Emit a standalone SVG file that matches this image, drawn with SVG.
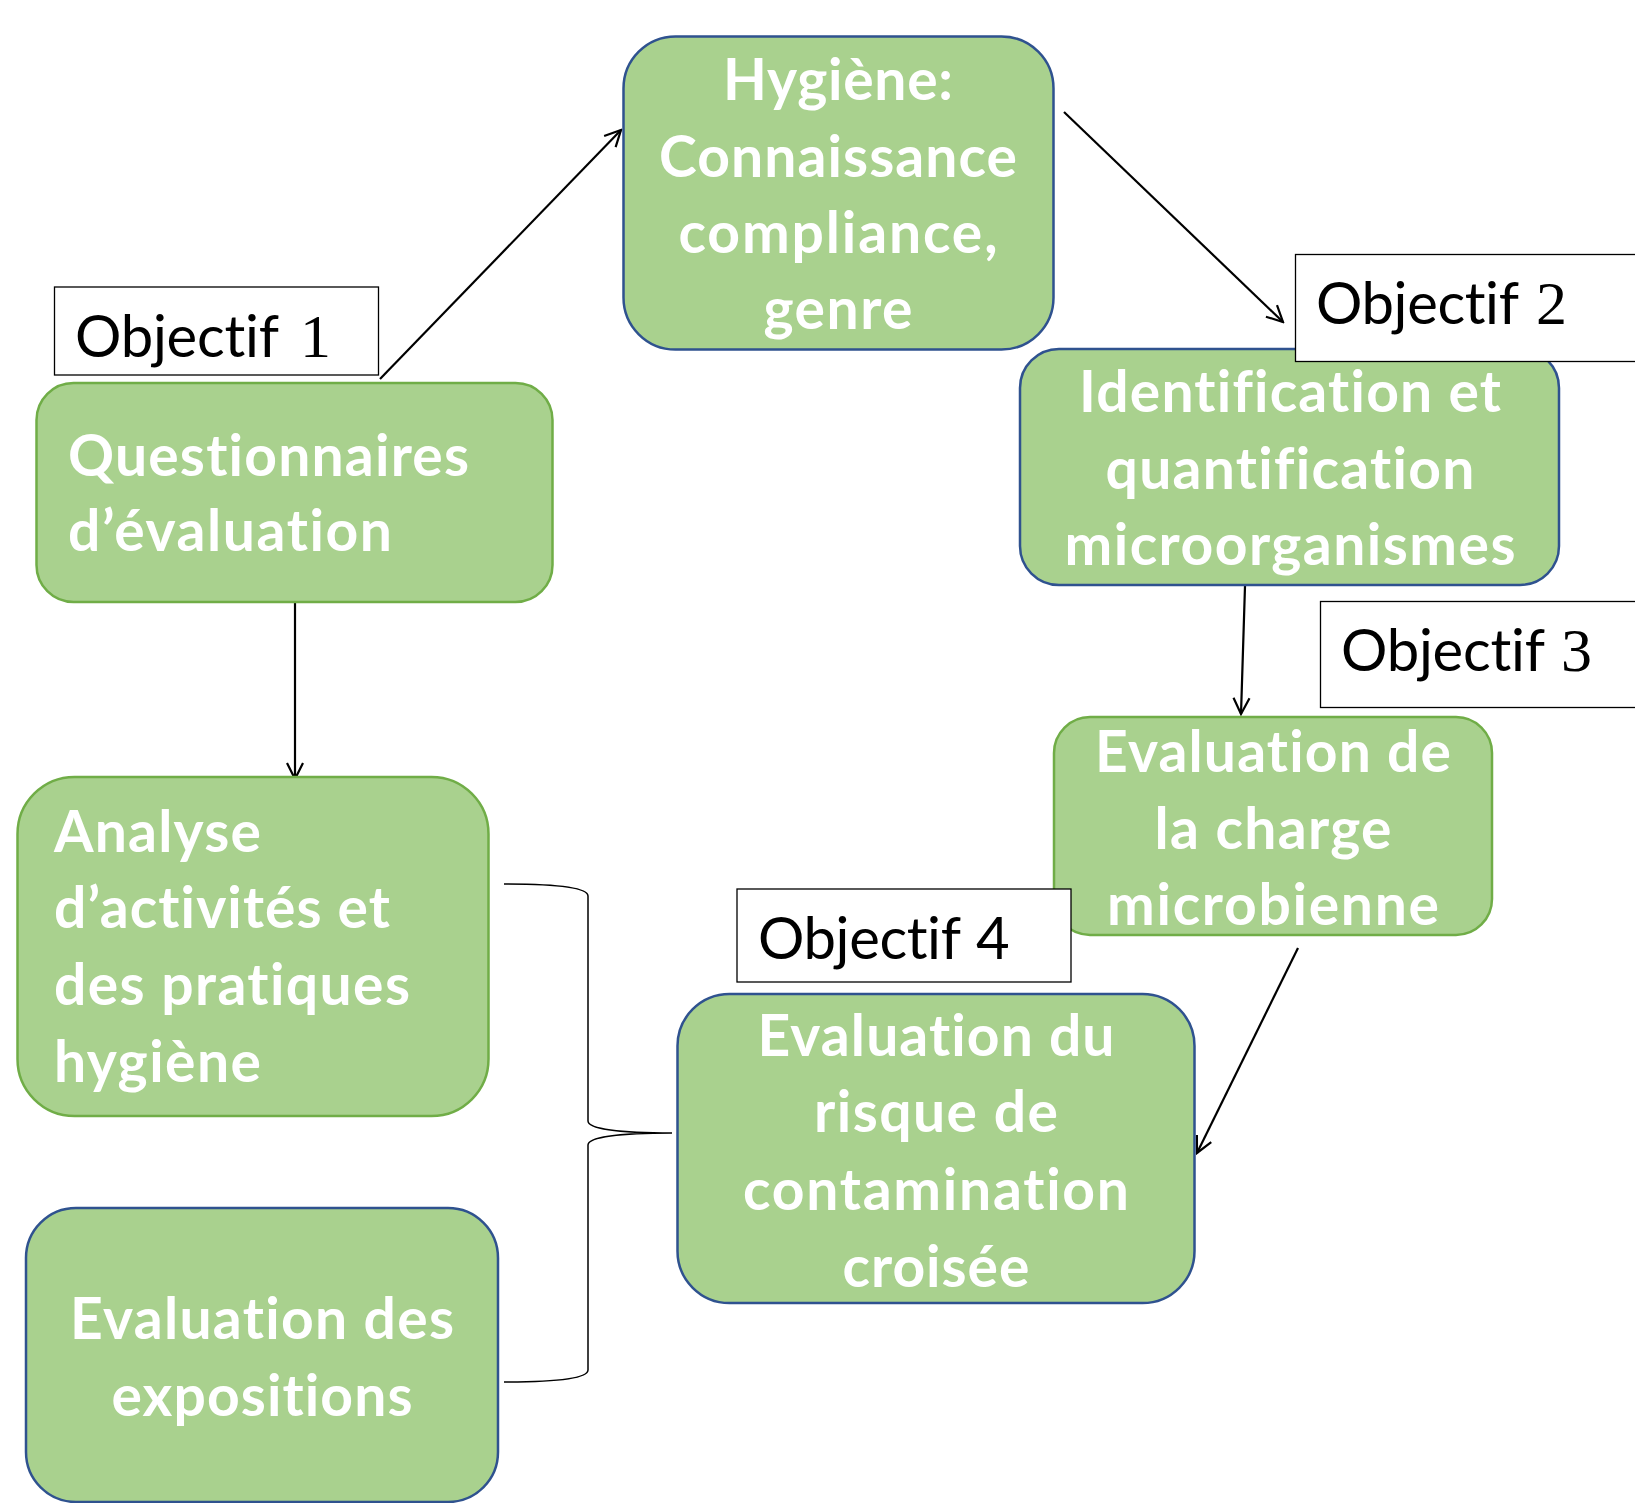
<svg xmlns="http://www.w3.org/2000/svg" width="1635" height="1503" viewBox="0 0 1635 1503">
<style>
.box{fill:#A9D18E;stroke-width:2.5}
.g{stroke:#70AD47}
.b{stroke:#2F528F}
.t{font-family:Lato,"Open Sans",sans-serif;font-weight:bold;font-size:57px;fill:#FFFFFF;font-variant-ligatures:none;font-feature-settings:"liga" 0,"clig" 0,"dlig" 0}
.c{text-anchor:middle}
.obj{fill:#FFFFFF;stroke:#000000;stroke-width:1.3}
.ot{font-family:Lato,"Open Sans",sans-serif;font-size:58px;fill:#000000;font-variant-ligatures:none;font-feature-settings:"liga" 0,"clig" 0,"dlig" 0}
.num{font-family:"Liberation Serif",serif;font-size:62px}
.ln{fill:none;stroke:#000000;stroke-width:2.2}
.br{fill:none;stroke:#000000;stroke-width:1.5}
</style>
<defs>
<marker id="ah" viewBox="-18 -10 20 20" refX="0" refY="0" markerWidth="20" markerHeight="20" markerUnits="userSpaceOnUse" orient="auto">
<path d="M-16,-8 L0,0 L-16,8" fill="none" stroke="#000000" stroke-width="2.2"/>
</marker>
</defs>
<rect width="1635" height="1503" fill="#FFFFFF"/>

<g id="connectors">
<line class="ln" x1="380" y1="379" x2="621" y2="130" marker-end="url(#ah)"/>
<line class="ln" x1="1064" y1="112" x2="1283" y2="322" marker-end="url(#ah)"/>
<line class="ln" x1="295" y1="602" x2="295" y2="779" marker-end="url(#ah)"/>
<line class="ln" x1="1245" y1="586" x2="1241" y2="714" marker-end="url(#ah)"/>
<line class="ln" x1="1298" y1="948" x2="1197" y2="1153" marker-end="url(#ah)"/>
<path class="br" d="M504,884 C560,884 588,888 588,896 L588,1121 C588,1129 620,1133 672,1133 C620,1133 588,1137 588,1145 L588,1370 C588,1378 560,1382 504,1382"/>
</g>

<g id="node-hygiene">
<rect class="box b" x="623.5" y="36.5" width="430" height="313" rx="52"/>
<text class="t c" x="838" y="100" textLength="230">Hygiène:</text>
<text class="t c" x="838" y="177" textLength="358">Connaissance</text>
<text class="t c" x="838" y="253" textLength="319">compliance,</text>
<text class="t c" x="838" y="329" textLength="149">genre</text>
</g>

<g id="node-questionnaires">
<rect class="box g" x="36.5" y="383" width="516" height="219" rx="37"/>
<text class="t" x="68" y="476" textLength="401">Questionnaires</text>
<text class="t" x="68" y="551" textLength="324">d’évaluation</text>
</g>

<g id="label-objectif1">
<rect class="obj" x="54.5" y="287" width="324" height="88"/>
<text class="ot" x="75" y="357" textLength="204">Objectif</text>
<text class="ot num" x="300" y="357">1</text>
</g>

<g id="node-identification">
<rect class="box b" x="1020" y="349" width="539" height="236" rx="39"/>
<text class="t c" x="1290" y="412" textLength="422">Identification et</text>
<text class="t c" x="1290" y="489" textLength="369">quantification</text>
<text class="t c" x="1290" y="565" textLength="451">microorganismes</text>
</g>

<g id="label-objectif2">
<rect class="obj" x="1295.5" y="254.5" width="360" height="107"/>
<text class="ot" x="1316" y="324" textLength="203">Objectif</text>
<text class="ot num" x="1536" y="324">2</text>
</g>

<g id="label-objectif3">
<rect class="obj" x="1320.5" y="601.5" width="340" height="106"/>
<text class="ot" x="1341" y="671" textLength="204">Objectif</text>
<text class="ot num" x="1561" y="671">3</text>
</g>

<g id="node-charge">
<rect class="box g" x="1054" y="717" width="438" height="218" rx="36"/>
<text class="t c" x="1273" y="772" textLength="356">Evaluation de</text>
<text class="t c" x="1273" y="849" textLength="237">la charge</text>
<text class="t c" x="1273" y="925" textLength="332">microbienne</text>
</g>

<g id="label-objectif4">
<rect class="obj" x="737" y="889" width="334" height="93"/>
<text class="ot" x="758" y="959" textLength="203">Objectif</text>
<text class="ot" x="976" y="959">4</text>
</g>

<g id="node-risque">
<rect class="box b" x="677.5" y="994" width="517" height="309" rx="52"/>
<text class="t c" x="936" y="1056" textLength="357">Evaluation du</text>
<text class="t c" x="936" y="1132" textLength="244">risque de</text>
<text class="t c" x="936" y="1210" textLength="386">contamination</text>
<text class="t c" x="936" y="1287" textLength="187">croisée</text>
</g>

<g id="node-analyse">
<rect class="box g" x="17.5" y="777" width="471" height="339" rx="57"/>
<text class="t" x="54" y="852" textLength="207">Analyse</text>
<text class="t" x="54" y="928" textLength="336">d’activités et</text>
<text class="t" x="54" y="1005" textLength="356">des pratiques</text>
<text class="t" x="54" y="1082" textLength="207">hygiène</text>
</g>

<g id="node-expositions">
<rect class="box b" x="26" y="1208" width="472" height="294" rx="50"/>
<text class="t c" x="262" y="1339" textLength="384">Evaluation des</text>
<text class="t c" x="262" y="1416" textLength="301">expositions</text>
</g>
</svg>
